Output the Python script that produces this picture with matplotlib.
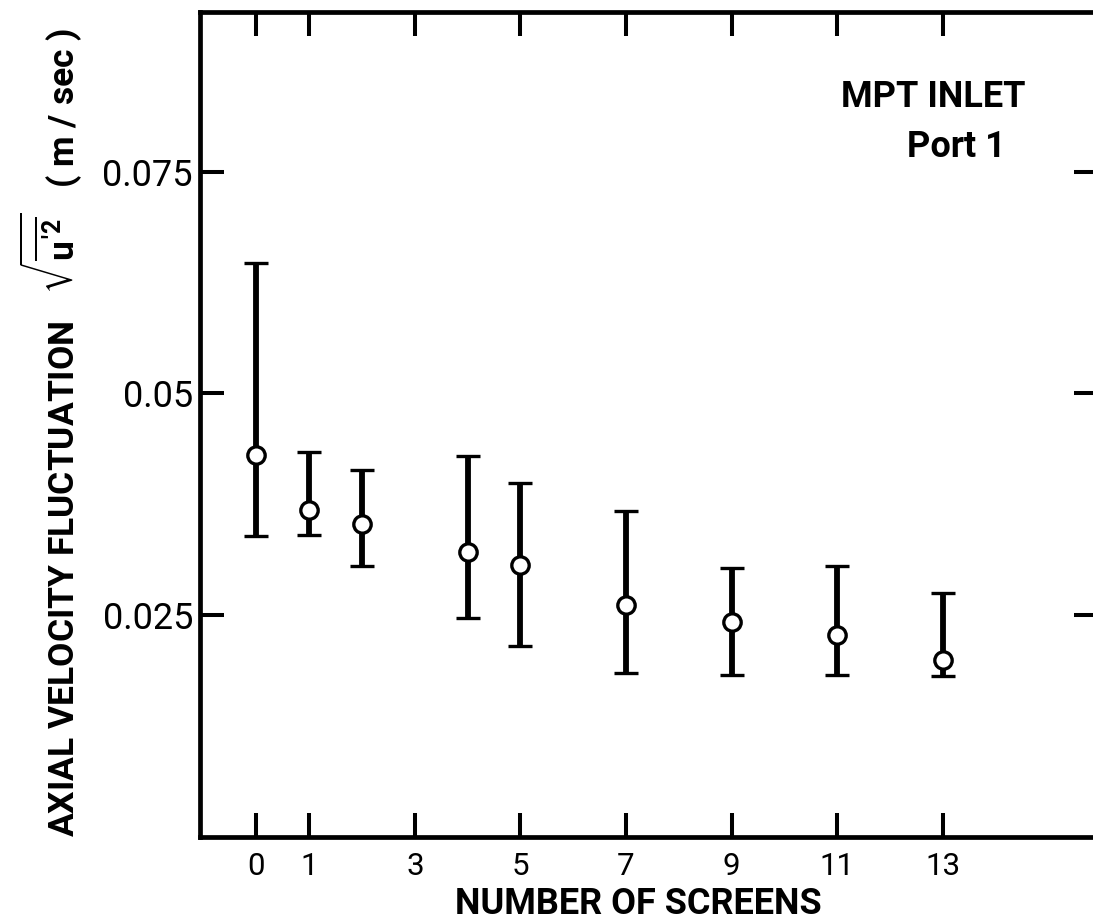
import matplotlib
matplotlib.use("Agg")
import matplotlib.pyplot as plt

# ---- data ----
screens = [0, 1, 2, 4, 5, 7, 9, 11, 13]
mean_vals = [0.0431, 0.0369, 0.0353, 0.0321, 0.0307, 0.0261, 0.0242, 0.0228, 0.0199]
upper_vals = [0.0647, 0.0434, 0.0414, 0.0429, 0.0399, 0.0367, 0.0303, 0.0306, 0.0275]
lower_vals = [0.0339, 0.0340, 0.0306, 0.0247, 0.0215, 0.0185, 0.0183, 0.0183, 0.0181]

x_ticks = [0, 1, 3, 5, 7, 9, 11, 13]
x_tick_labels = ["0", "1", "3", "5", "7", "9", "11", "13"]
y_ticks = [0.025, 0.05, 0.075]
y_tick_labels = ["0.025", "0.05", "0.075"]

x_label = "NUMBER OF SCREENS"
y_label = r"AXIAL VELOCITY FLUCTUATION   $\sqrt{\overline{u'^{2}}}$   ( m / sec )"
annot_1 = "MPT INLET"
annot_2 = "Port 1"

plt.rcParams['font.family'] = ['Roboto', 'DejaVu Sans']
plt.rcParams['mathtext.fontset'] = 'custom'
plt.rcParams['mathtext.rm'] = 'Roboto:bold'
plt.rcParams['mathtext.it'] = 'Roboto:bold'
plt.rcParams['mathtext.bf'] = 'Roboto:bold'
plt.rcParams['mathtext.fallback'] = 'stixsans'

W, H = 1093, 922
fig = plt.figure(figsize=(W / 100, H / 100), dpi=100)
fig.patch.set_facecolor('white')

left_px, right_px, top_px, bottom_px = 200, 1098, 12, 837
ax = fig.add_axes([left_px / W, (H - bottom_px) / H,
                   (right_px - left_px) / W, (bottom_px - top_px) / H])

lower_err = [m - l for m, l in zip(mean_vals, lower_vals)]
upper_err = [u - m for m, u in zip(mean_vals, upper_vals)]

ax.errorbar(screens, mean_vals, yerr=[lower_err, upper_err], fmt='o',
            color='black', ecolor='black', elinewidth=4.2, capsize=8.6,
            capthick=4.2, markersize=12.5, markeredgewidth=2.4,
            markerfacecolor='white', markeredgecolor='black', zorder=3)

ax.set_xlim(-1.07, 15.94)
ax.set_ylim(0, 0.093)

ax.set_xticks(x_ticks)
ax.set_xticklabels(x_tick_labels)
ax.set_yticks(y_ticks)
ax.set_yticklabels(y_tick_labels)

for s in ax.spines.values():
    s.set_linewidth(3.4)
    s.set_color('black')

ax.tick_params(axis='both', direction='in', length=17, width=2.9,
               top=True, right=True, color='black')
ax.tick_params(axis='x', labelsize=22.5, pad=11)
ax.tick_params(axis='y', labelsize=26, pad=5)

ax.set_xlabel(x_label, fontsize=26, fontweight='bold')
ax.xaxis.set_label_coords((638 - left_px) / (right_px - left_px),
                          (bottom_px - 886) / (bottom_px - top_px))
ax.set_ylabel(y_label, fontsize=25.5, fontweight='bold')
ax.yaxis.set_label_coords((84 - left_px) / (right_px - left_px), 0.49)

fig.text(933 / W, 1 - 107 / H, annot_1, fontsize=26, fontweight='bold',
         ha='center', va='baseline')
fig.text(1006 / W, 1 - 157 / H, annot_2, fontsize=26, fontweight='bold',
         ha='right', va='baseline')

fig.savefig('out.png', dpi=100, facecolor='white')
